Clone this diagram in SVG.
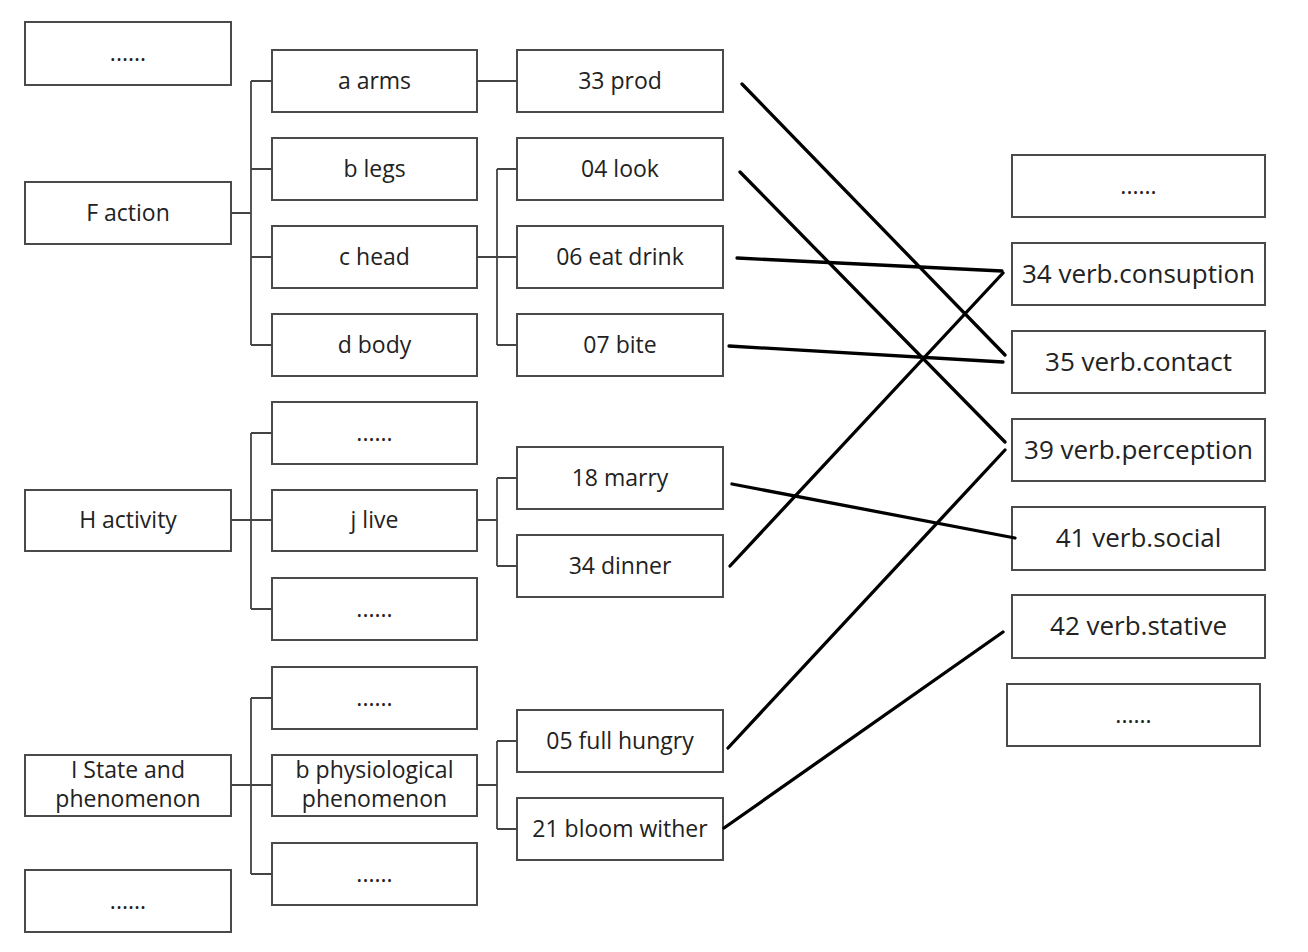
<svg xmlns="http://www.w3.org/2000/svg" width="1308" height="952" viewBox="0 0 1308 952">
<style>
.box{fill:#fff;stroke:#4a4a4a;stroke-width:2}
.t{font-family:"Open Sans","Noto Sans","Liberation Sans",sans-serif;font-size:23px;fill:#222;text-anchor:middle}
.tr{font-family:"Open Sans","Noto Sans","Liberation Sans",sans-serif;font-size:26px;fill:#222;text-anchor:middle}
.br{fill:none;stroke:#444;stroke-width:1.8}
.ln{fill:none;stroke:#000;stroke-width:3.3;stroke-linecap:round}
</style>
<rect width="1308" height="952" fill="#fff"/>
<g id="col1">
<g id="n-dots-top"><rect class="box" x="25" y="22" width="206" height="63"/><text class="t" x="128" y="61">......</text></g>
<g id="n-F"><rect class="box" x="25" y="182" width="206" height="62"/><text class="t" x="128" y="221">F action</text></g>
<g id="n-H"><rect class="box" x="25" y="490" width="206" height="61"/><text class="t" x="128" y="528">H activity</text></g>
<g id="n-I"><rect class="box" x="25" y="755" width="206" height="61"/><text class="t" x="128" y="778">I State and</text><text class="t" x="128" y="807">phenomenon</text></g>
<g id="n-dots-bottom"><rect class="box" x="25" y="870" width="206" height="62"/><text class="t" x="128" y="909">......</text></g>
</g>
<g id="col2">
<g id="n-a"><rect class="box" x="272" y="50" width="205" height="62"/><text class="t" x="374.5" y="89">a arms</text></g>
<g id="n-b"><rect class="box" x="272" y="138" width="205" height="62"/><text class="t" x="374.5" y="177">b legs</text></g>
<g id="n-c"><rect class="box" x="272" y="226" width="205" height="62"/><text class="t" x="374.5" y="265">c head</text></g>
<g id="n-d"><rect class="box" x="272" y="314" width="205" height="62"/><text class="t" x="374.5" y="353">d body</text></g>
<g id="n-H1"><rect class="box" x="272" y="402" width="205" height="62"/><text class="t" x="374.5" y="441">......</text></g>
<g id="n-j"><rect class="box" x="272" y="490" width="205" height="61"/><text class="t" x="374.5" y="528">j live</text></g>
<g id="n-H3"><rect class="box" x="272" y="578" width="205" height="62"/><text class="t" x="374.5" y="617">......</text></g>
<g id="n-I1"><rect class="box" x="272" y="667" width="205" height="62"/><text class="t" x="374.5" y="706">......</text></g>
<g id="n-bp"><rect class="box" x="272" y="755" width="205" height="61"/><text class="t" x="374.5" y="778">b physiological</text><text class="t" x="374.5" y="807">phenomenon</text></g>
<g id="n-I3"><rect class="box" x="272" y="843" width="205" height="62"/><text class="t" x="374.5" y="882">......</text></g>
</g>
<g id="col3">
<g id="n-33"><rect class="box" x="517" y="50" width="206" height="62"/><text class="t" x="620" y="89">33 prod</text></g>
<g id="n-04"><rect class="box" x="517" y="138" width="206" height="62"/><text class="t" x="620" y="177">04 look</text></g>
<g id="n-06"><rect class="box" x="517" y="226" width="206" height="62"/><text class="t" x="620" y="265">06 eat drink</text></g>
<g id="n-07"><rect class="box" x="517" y="314" width="206" height="62"/><text class="t" x="620" y="353">07 bite</text></g>
<g id="n-18"><rect class="box" x="517" y="447" width="206" height="62"/><text class="t" x="620" y="486">18 marry</text></g>
<g id="n-34d"><rect class="box" x="517" y="535" width="206" height="62"/><text class="t" x="620" y="574">34 dinner</text></g>
<g id="n-05"><rect class="box" x="517" y="710" width="206" height="62"/><text class="t" x="620" y="749">05 full hungry</text></g>
<g id="n-21"><rect class="box" x="517" y="798" width="206" height="62"/><text class="t" x="620" y="837">21 bloom wither</text></g>
</g>
<g id="col4">
<g id="n-v0"><rect class="box" x="1012" y="155" width="253" height="62"/><text class="t" x="1138.5" y="194">......</text></g>
<g id="n-v34"><rect class="box" x="1012" y="243" width="253" height="62"/><text class="tr" x="1138.5" y="283">34 verb.consuption</text></g>
<g id="n-v35"><rect class="box" x="1012" y="331" width="253" height="62"/><text class="tr" x="1138.5" y="371">35 verb.contact</text></g>
<g id="n-v39"><rect class="box" x="1012" y="419" width="253" height="62"/><text class="tr" x="1138.5" y="459">39 verb.perception</text></g>
<g id="n-v41"><rect class="box" x="1012" y="507" width="253" height="63"/><text class="tr" x="1138.5" y="547">41 verb.social</text></g>
<g id="n-v42"><rect class="box" x="1012" y="595" width="253" height="63"/><text class="tr" x="1138.5" y="635">42 verb.stative</text></g>
<g id="n-v9"><rect class="box" x="1007" y="684" width="253" height="62"/><text class="t" x="1133.5" y="723">......</text></g>
</g>
<g id="connectors">
<path class="br" d="M231,213H251M251,81V345M251,81H272M251,169H272M251,257H272M251,345H272"/>
<path class="br" d="M477,81H517"/>
<path class="br" d="M477,257H497M497,169V345M497,169H517M497,257H517M497,345H517"/>
<path class="br" d="M231,520H251M251,433V609M251,433H272M251,520H272M251,609H272"/>
<path class="br" d="M477,520H497M497,478V566M497,478H517M497,566H517"/>
<path class="br" d="M231,785H251M251,698V874M251,698H272M251,785H272M251,874H272"/>
<path class="br" d="M477,785H497M497,741V829M497,741H517M497,829H517"/>
<line class="ln" x1="742" y1="84" x2="1005" y2="355"/>
<line class="ln" x1="740" y1="172" x2="1005" y2="442"/>
<line class="ln" x1="737" y1="258" x2="1002" y2="271"/>
<line class="ln" x1="729" y1="346" x2="1003" y2="362"/>
<line class="ln" x1="730" y1="566" x2="1003" y2="273"/>
<line class="ln" x1="732" y1="484" x2="1015" y2="538"/>
<line class="ln" x1="728" y1="748" x2="1005" y2="450"/>
<line class="ln" x1="724" y1="828" x2="1003" y2="632"/>
</g>
</svg>
